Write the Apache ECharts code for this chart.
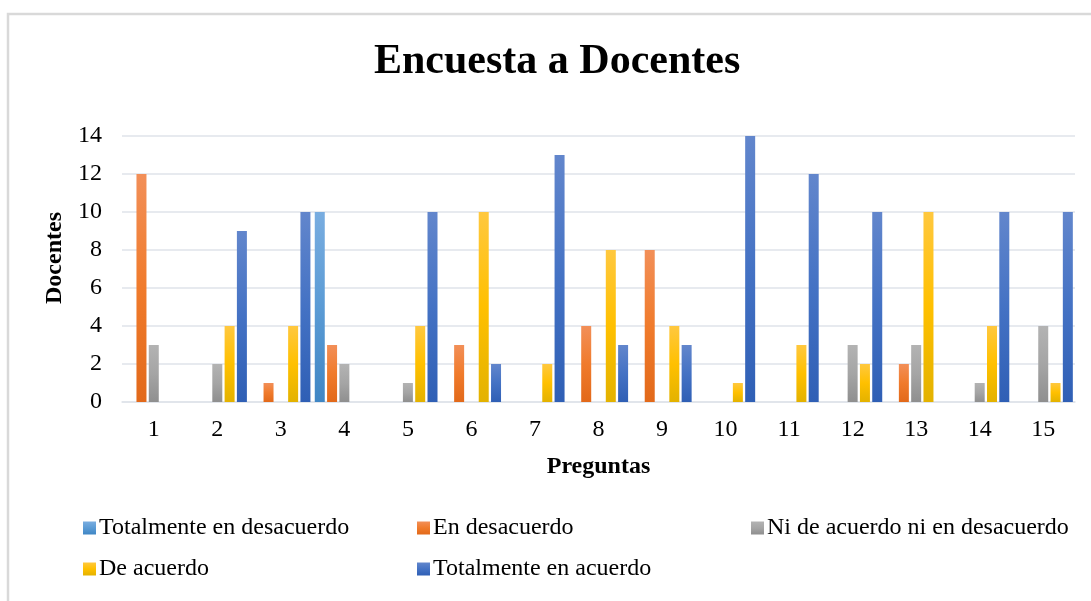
<!DOCTYPE html>
<html lang="es">
<head>
    <meta charset="UTF-8">
    <title>Encuesta a Docentes</title>
    <script src="https://cdn.jsdelivr.net/npm/echarts@6/dist/echarts.min.js"></script>
    <style>
        html, body { margin: 0; padding: 0; background: #fff; }
        #chart { width: 1091px; height: 601px; }
    </style>
</head>
<body>
    <div id="chart"></div>
    <script>
        // datos
        var preguntas = ['1', '2', '3', '4', '5', '6', '7', '8', '9', '10', '11', '12', '13', '14', '15'];
        var totalDesacuerdo = [0, 0, 0, 10, 0, 0, 0, 0, 0, 0, 0, 0, 0, 0, 0];
        var enDesacuerdo = [12, 0, 1, 3, 0, 3, 0, 4, 8, 0, 0, 0, 2, 0, 0];
        var niNi = [3, 2, 0, 2, 1, 0, 0, 0, 0, 0, 0, 3, 3, 1, 4];
        var deAcuerdo = [0, 4, 4, 0, 4, 10, 2, 8, 4, 1, 3, 2, 10, 4, 1];
        var totalAcuerdo = [0, 9, 10, 0, 10, 2, 13, 3, 3, 14, 12, 10, 0, 10, 10];

        var fuente = '"Liberation Serif", "Times New Roman", serif';

        // degradado vertical como en Excel
        function grad(top, mid, bottom) {
            return new echarts.graphic.LinearGradient(0, 0, 0, 1, [
                { offset: 0, color: top },
                { offset: 0.5, color: mid },
                { offset: 1, color: bottom }
            ]);
        }

        function serie(nombre, datos, color) {
            return {
                name: nombre,
                type: 'bar',
                data: datos,
                barWidth: 10,
                barGap: '23%',
                itemStyle: { color: color }
            };
        }

        var myChart = echarts.init(document.getElementById('chart'));

        var leyendaBase = {
            orient: 'vertical',
            itemWidth: 13,
            itemHeight: 13,
            itemGap: 17,
            icon: 'rect',
            textStyle: { fontFamily: fuente, fontSize: 24, color: '#000', padding: [0, 0, 0, -2] }
        };

        var option = {
            animation: false,
            backgroundColor: '#fff',
            graphic: [{
                type: 'rect',
                shape: { x: 8, y: 14, width: 1200, height: 700 },
                style: { fill: 'none', stroke: '#d9d9d9', lineWidth: 2.5 },
                silent: true
            }],
            title: {
                text: 'Encuesta a Docentes',
                left: 369,
                top: 36,
                textStyle: { fontFamily: fuente, fontSize: 42, fontWeight: 'bold', color: '#000' }
            },
            legend: [
                Object.assign({ left: 78, top: 511, data: ['Totalmente en desacuerdo', 'De acuerdo'] }, leyendaBase),
                Object.assign({ left: 412, top: 511, data: ['En desacuerdo', 'Totalmente en acuerdo'] }, leyendaBase),
                Object.assign({ left: 746, top: 511, data: ['Ni de acuerdo ni en desacuerdo'] }, leyendaBase)
            ],
            grid: { left: 122, right: 16, top: 136, bottom: 199 },
            xAxis: {
                type: 'category',
                data: preguntas,
                name: 'Preguntas',
                nameLocation: 'middle',
                nameGap: 53,
                nameTextStyle: { fontFamily: fuente, fontSize: 24, fontWeight: 'bold', color: '#000' },
                axisLine: { lineStyle: { color: '#dfe3ea', width: 1.5 } },
                axisTick: { show: false },
                axisLabel: { fontFamily: fuente, fontSize: 24, color: '#000', margin: 16 }
            },
            yAxis: {
                type: 'value',
                min: 0,
                max: 14,
                interval: 2,
                name: 'Docentes',
                nameLocation: 'middle',
                nameGap: 49,
                nameTextStyle: { fontFamily: fuente, fontSize: 24, fontWeight: 'bold', color: '#000', padding: [0, 0, 0, 22] },
                axisLine: { show: false },
                axisTick: { show: false },
                axisLabel: { fontFamily: fuente, fontSize: 24, color: '#000', margin: 20 },
                splitLine: { lineStyle: { color: '#dfe3ea', width: 1.5 } }
            },
            series: [
                serie('Totalmente en desacuerdo', totalDesacuerdo, grad('#79ade0', '#5b9bd5', '#3f86c4')),
                serie('En desacuerdo', enDesacuerdo, grad('#f28f58', '#f07b2c', '#e2691a')),
                serie('Ni de acuerdo ni en desacuerdo', niNi, grad('#b3b3b3', '#a5a5a5', '#8f8f8f')),
                serie('De acuerdo', deAcuerdo, grad('#ffc83f', '#ffc000', '#e3b200')),
                serie('Totalmente en acuerdo', totalAcuerdo, grad('#6286cc', '#4472c4', '#2f5fb5'))
            ]
        };

        myChart.setOption(option);
    </script>
</body>
</html>
